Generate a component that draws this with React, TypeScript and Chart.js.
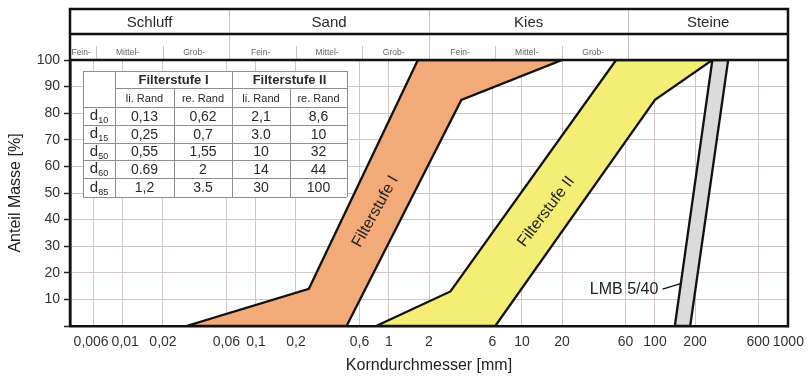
import React, { useEffect, useRef } from "react";
import { Chart, registerables } from "chart.js";

Chart.register(...registerables);

// ---------- data ----------
const xTickValues = [0.006, 0.01, 0.02, 0.06, 0.1, 0.2, 0.6, 1, 2, 6, 10, 20, 60, 100, 200, 600, 1000];
const xTickLabels = ["0,006", "0,01", "0,02", "0,06", "0,1", "0,2", "0,6", "1", "2", "6", "10", "20", "60", "100", "200", "600", "1000"];
const yTickValues = [0, 10, 20, 30, 40, 50, 60, 70, 80, 90, 100];

const soilGroups = ["Schluff", "Sand", "Kies", "Steine"];
const soilGroupBounds = [0.004, 0.063, 2, 63, 1000];
const subFractions = ["Fein-", "Mittel-", "Grob-"];
const subFractionBounds = [
  [0.004, 0.0063, 0.02, 0.063],
  [0.063, 0.2, 0.63, 2],
  [2, 6.3, 20, 63],
];

// Filterstufe I band
const fs1LeftX = [0.03, 0.25, 1.65];
const fs1LeftY = [0, 14, 100];
const fs1RightX = [0.48, 3.5, 20];
const fs1RightY = [0, 85, 100];

// Filterstufe II band
const fs2LeftX = [0.8, 2.9, 51];
const fs2LeftY = [0, 13, 100];
const fs2RightX = [6.3, 100, 270];
const fs2RightY = [0, 85, 100];

// LMB 5/40 band
const lmbLeftX = [141, 270];
const lmbLeftY = [0, 100];
const lmbRightX = [184, 355];
const lmbRightY = [0, 100];

// LMB label leader
const lmbLeaderX = [114, 180];
const lmbLeaderY = [13.9, 16.9];

// table
const tableRowSubs = ["10", "15", "50", "60", "85"];
const fs1LeftTable = ["0,13", "0,25", "0,55", "0.69", "1,2"];
const fs1RightTable = ["0,62", "0,7", "1,55", "2", "3.5"];
const fs2LeftTable = ["2,1", "3.0", "10", "14", "30"];
const fs2RightTable = ["8,6", "10", "32", "44", "100"];

// ---------- helpers ----------
const FONT = '"Liberation Sans", Arial, Helvetica, sans-serif';

function polygon(lx: number[], ly: number[], rx: number[], ry: number[]) {
  const pts: { x: number; y: number }[] = [];
  lx.forEach((x, i) => pts.push({ x, y: ly[i] }));
  for (let i = rx.length - 1; i >= 0; i--) pts.push({ x: rx[i], y: ry[i] });
  pts.push({ x: lx[0], y: ly[0] });
  return pts;
}

const overlayPlugin = {
  id: "overlay",
  beforeDatasetDraw(chart: any, args: any) {
    const ds = chart.data.datasets[args.index];
    if (!ds.polyColor) return;
    const pts = args.meta.data;
    const { ctx, chartArea: a } = chart;
    ctx.save();
    ctx.beginPath();
    ctx.rect(a.left, a.top, a.right - a.left, a.bottom - a.top);
    ctx.clip();
    ctx.beginPath();
    pts.forEach((p: any, i: number) => (i ? ctx.lineTo(p.x, p.y) : ctx.moveTo(p.x, p.y)));
    ctx.closePath();
    ctx.fillStyle = ds.polyColor;
    ctx.fill();
    ctx.restore();
  },
  afterDatasetsDraw(chart: any) {
    const { ctx, chartArea: a } = chart;
    const xs = chart.scales.x;
    const ys = chart.scales.y;

    // band labels
    ctx.save();
    ctx.fillStyle = "#222";
    ctx.font = `16px ${FONT}`;
    ctx.textAlign = "center";
    ctx.textBaseline = "middle";
    const drawRot = (text: string, xv: number, yv: number, deg: number) => {
      ctx.save();
      ctx.translate(xs.getPixelForValue(xv), ys.getPixelForValue(yv));
      ctx.rotate((deg * Math.PI) / 180);
      ctx.fillText(text, 0, 0);
      ctx.restore();
    };
    drawRot("Filterstufe I", 0.79, 43, -61);
    drawRot("Filterstufe II", 15.2, 43, -53);
    ctx.textAlign = "right";
    ctx.fillText("LMB 5/40", xs.getPixelForValue(106), ys.getPixelForValue(13.6));
    ctx.restore();

    // table
    const L = a.left, T = a.top;
    const cx = [13, 45, 104, 162, 220, 277].map((v) => L + v);
    const cy = [11, 28, 47, 65, 83, 100, 118, 137].map((v) => T + v);
    ctx.save();
    ctx.fillStyle = "#ffffff";
    ctx.fillRect(cx[0], cy[0], cx[5] - cx[0], cy[7] - cy[0]);
    ctx.strokeStyle = "#8f8f8f";
    ctx.lineWidth = 1;
    const hl = (y: number, x0: number, x1: number) => {
      ctx.beginPath();
      ctx.moveTo(x0, Math.round(y) + 0.5);
      ctx.lineTo(x1, Math.round(y) + 0.5);
      ctx.stroke();
    };
    const vl = (x: number, y0: number, y1: number) => {
      ctx.beginPath();
      ctx.moveTo(Math.round(x) + 0.5, y0);
      ctx.lineTo(Math.round(x) + 0.5, y1);
      ctx.stroke();
    };
    hl(cy[0], cx[0], cx[5]);
    hl(cy[1], cx[1], cx[5]);
    for (let i = 2; i < 8; i++) hl(cy[i], cx[0], cx[5]);
    vl(cx[0], cy[0], cy[7]);
    vl(cx[1], cy[0], cy[7]);
    vl(cx[3], cy[0], cy[7]);
    vl(cx[5], cy[0], cy[7]);
    vl(cx[2], cy[1], cy[7]);
    vl(cx[4], cy[1], cy[7]);

    ctx.fillStyle = "#2a2a2a";
    ctx.textAlign = "center";
    ctx.textBaseline = "middle";
    ctx.font = `bold 13px ${FONT}`;
    ctx.fillText("Filterstufe I", (cx[1] + cx[3]) / 2, (cy[0] + cy[1]) / 2 + 1);
    ctx.fillText("Filterstufe II", (cx[3] + cx[5]) / 2, (cy[0] + cy[1]) / 2 + 1);
    ctx.font = `11px ${FONT}`;
    const sub = ["li. Rand", "re. Rand", "li. Rand", "re. Rand"];
    sub.forEach((s, i) => ctx.fillText(s, (cx[i + 1] + cx[i + 2]) / 2, (cy[1] + cy[2]) / 2 + 1));
    const cols = [fs1LeftTable, fs1RightTable, fs2LeftTable, fs2RightTable];
    ctx.font = `14px ${FONT}`;
    tableRowSubs.forEach((r, ri) => {
      const yc = (cy[ri + 2] + cy[ri + 3]) / 2 + 1;
      cols.forEach((col, ci) => {
        ctx.fillText(col[ri], (cx[ci + 1] + cx[ci + 2]) / 2, yc);
      });
      // d with subscript
      ctx.font = `15px ${FONT}`;
      const dw = ctx.measureText("d").width;
      ctx.font = `9px ${FONT}`;
      const sw = ctx.measureText(r).width;
      const x0 = (cx[0] + cx[1]) / 2 - (dw + sw) / 2;
      ctx.textAlign = "left";
      ctx.font = `15px ${FONT}`;
      ctx.fillText("d", x0, yc - 1);
      ctx.font = `9px ${FONT}`;
      ctx.fillText(r, x0 + dw, yc + 4);
      ctx.textAlign = "center";
      ctx.font = `14px ${FONT}`;
    });
    ctx.restore();
  },
  afterDraw(chart: any) {
    const { ctx, chartArea: a } = chart;
    const xs = chart.scales.x;
    const top = 9, mid = 34, bot = a.top;
    ctx.save();

    // x tick labels (spread apart where they would collide)
    ctx.font = `14px ${FONT}`;
    ctx.fillStyle = "#333";
    ctx.textAlign = "center";
    ctx.textBaseline = "top";
    const centers = xTickValues.map((v) => xs.getPixelForValue(v));
    const widths = xTickLabels.map((t) => ctx.measureText(t).width);
    const gap = 3;
    for (let i = 0; i < centers.length - 1; i++) {
      const over = centers[i] + widths[i] / 2 + gap - (centers[i + 1] - widths[i + 1] / 2);
      if (over > 0) {
        centers[i] -= over / 2;
        centers[i + 1] += over / 2;
      }
    }
    xTickLabels.forEach((t, i) => ctx.fillText(t, centers[i], a.bottom + 9));

    // group dividers
    ctx.strokeStyle = "#c4c4c4";
    ctx.lineWidth = 1;
    for (let i = 1; i < soilGroupBounds.length - 1; i++) {
      const x = Math.round(xs.getPixelForValue(soilGroupBounds[i])) + 0.5;
      ctx.beginPath();
      ctx.moveTo(x, top);
      ctx.lineTo(x, bot);
      ctx.stroke();
    }
    // sub dividers
    subFractionBounds.forEach((b) => {
      for (let i = 1; i < b.length - 1; i++) {
        const x = Math.round(xs.getPixelForValue(b[i])) + 0.5;
        ctx.beginPath();
        ctx.moveTo(x, mid + 12);
        ctx.lineTo(x, bot);
        ctx.stroke();
      }
    });
    // texts
    ctx.fillStyle = "#2a2a2a";
    ctx.textAlign = "center";
    ctx.textBaseline = "middle";
    ctx.font = `15px ${FONT}`;
    soilGroups.forEach((g, i) => {
      const x0 = xs.getPixelForValue(soilGroupBounds[i]);
      const x1 = xs.getPixelForValue(soilGroupBounds[i + 1]);
      ctx.fillText(g, (x0 + x1) / 2, (top + mid) / 2 + 1);
    });
    ctx.fillStyle = "#666";
    ctx.font = `8.5px ${FONT}`;
    subFractionBounds.forEach((b) => {
      for (let i = 0; i < 3; i++) {
        const x0 = xs.getPixelForValue(b[i]);
        const x1 = xs.getPixelForValue(b[i + 1]);
        ctx.fillText(subFractions[i], (x0 + x1) / 2 - 2, 53);
      }
    });
    // frame
    ctx.strokeStyle = "#111";
    ctx.lineWidth = 2.5;
    ctx.beginPath();
    ctx.moveTo(a.left, top);
    ctx.lineTo(a.right, top);
    ctx.moveTo(a.left, mid);
    ctx.lineTo(a.right, mid);
    ctx.moveTo(a.left, a.top);
    ctx.lineTo(a.right, a.top);
    ctx.moveTo(a.left, top - 1.25);
    ctx.lineTo(a.left, a.bottom);
    ctx.moveTo(a.right, top - 1.25);
    ctx.lineTo(a.right, a.bottom + 1.25);
    ctx.stroke();
    ctx.restore();
  },
};

export default function App() {
  const ref = useRef<HTMLCanvasElement>(null);
  useEffect(() => {
    document.body.style.margin = "0";
    const bandLine = {
      type: "line" as const,
      borderColor: "#111",
      borderWidth: 2.3,
      pointRadius: 0,
      tension: 0,
      fill: false,
      showLine: true,
    };
    const chart = new Chart(ref.current as HTMLCanvasElement, {
      type: "line",
      data: {
        datasets: [
          { ...bandLine, label: "Filterstufe I", data: polygon(fs1LeftX, fs1LeftY, fs1RightX, fs1RightY), polyColor: "#F2AA79" } as any,
          { ...bandLine, label: "Filterstufe II", data: polygon(fs2LeftX, fs2LeftY, fs2RightX, fs2RightY), polyColor: "#F4EE74" } as any,
          { ...bandLine, label: "LMB 5/40", data: polygon(lmbLeftX, lmbLeftY, lmbRightX, lmbRightY), polyColor: "#DBDBDB" } as any,
          {
            type: "line",
            label: "leader",
            data: lmbLeaderX.map((x, i) => ({ x, y: lmbLeaderY[i] })),
            borderColor: "#111",
            borderWidth: 1.3,
            pointRadius: [0, 2.6],
            pointBackgroundColor: "#111",
            pointBorderWidth: 0,
            tension: 0,
            fill: false,
          } as any,
        ],
      },
      options: {
        animation: false,
        responsive: false,
        layout: { padding: { top: 60, right: 22, left: 0, bottom: 0 } },
        plugins: { legend: { display: false }, tooltip: { enabled: false } },
        scales: {
          x: {
            type: "logarithmic",
            min: 0.004,
            max: 1000,
            afterBuildTicks: (s: any) => {
              s.ticks = xTickValues.map((v) => ({ value: v }));
            },
            afterFit: (s: any) => {
              s.height = 53;
            },
            ticks: {
              display: false,
              autoSkip: false,
              maxRotation: 0,
              minRotation: 0,
              callback: (_v: any, i: number) => xTickLabels[i],
            },
            grid: { color: "#d2c6c6", lineWidth: 1, drawTicks: false },
            border: { color: "#111", width: 2.5 },
            title: {
              display: true,
              text: "Korndurchmesser [mm]",
              color: "#222",
              font: { family: FONT, size: 16 },
              padding: { top: 2, bottom: 4 },
            },
          },
          y: {
            type: "linear",
            min: 0,
            max: 100,
            afterBuildTicks: (s: any) => {
              s.ticks = yTickValues.map((v) => ({ value: v }));
            },
            afterFit: (s: any) => {
              s.width = 70;
            },
            ticks: {
              padding: 4,
              color: "#333",
              font: { family: FONT, size: 14 },
              callback: (v: any) => (v === 0 ? "" : String(v)),
            },
            grid: { color: "#d2c6c6", lineWidth: 1, tickLength: 6, tickColor: "#222", tickWidth: 1.5 },
            border: { color: "#111", width: 2.5 },
            title: {
              display: true,
              text: "Anteil Masse [%]",
              color: "#222",
              font: { family: FONT, size: 16 },
              padding: { top: 6, bottom: 4 },
            },
          },
        },
      },
      plugins: [overlayPlugin],
    });
    return () => chart.destroy();
  }, []);
  return <canvas ref={ref} width={810} height={379} style={{ display: "block" }} />;
}
